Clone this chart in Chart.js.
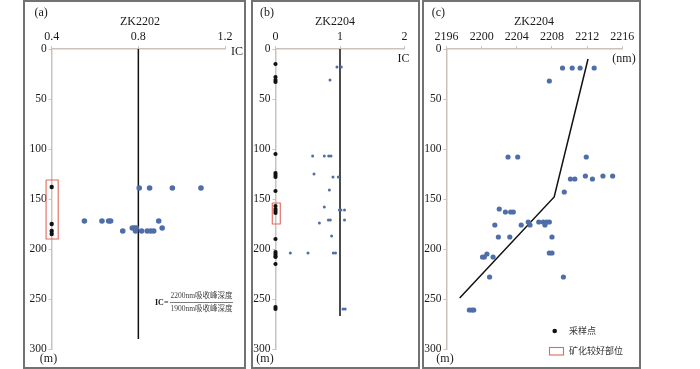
<!DOCTYPE html>
<html>
<head>
<meta charset="utf-8">
<script src="https://cdn.jsdelivr.net/npm/chart.js@4.4.1/dist/chart.umd.min.js"></script>
<style>
  html, body { margin:0; padding:0; background:#fff; }
  body { width:700px; height:369px; position:relative; overflow:hidden; }
  canvas { position:absolute; top:0; }
  .frame { position:absolute; top:0; height:369px; border:2px solid #727272; box-sizing:border-box; pointer-events:none; }
</style>
</head>
<body>
<canvas id="ca" style="left:25px;width:220px;height:367px" width="220" height="367"></canvas>
<canvas id="cb" style="left:253px;width:165px;height:367px" width="165" height="367"></canvas>
<canvas id="cc" style="left:424px;width:215px;height:367px" width="215" height="367"></canvas>
<div class="frame" style="left:23px;width:223px"></div>
<div class="frame" style="left:251px;width:169px"></div>
<div class="frame" style="left:422px;width:219px"></div>
<script>
// ---------------- data ----------------
// Panel (a) ZK2202 : IC vs depth (m)
const aSampleDepth = [138, 175, 182, 185];           // black sample points at IC axis origin
const aSampleIC    = [0.4, 0.4, 0.4, 0.4];
const aIC    = [0.804, 0.852, 0.957, 1.089, 0.551, 0.632, 0.663, 0.672, 0.894, 0.772, 0.781, 0.790, 0.910, 0.728, 0.787, 0.815, 0.841, 0.857, 0.871];
const aDepth = [139, 139, 139, 139, 172, 172, 172, 172, 172, 179, 179, 179, 179, 182, 182, 182, 182, 182, 182];
const aRefIC = [0.8, 0.8];
const aRefDepth = [0, 290];
const aZoneIC = [0.374, 0.430];
const aZoneDepth = [131, 190];
const aXTicks = [0.4, 0.8, 1.2];

// Panel (b) ZK2204 : IC vs depth (m)
const bSampleDepth = [15, 28, 31, 33, 105, 124, 126, 128, 142, 157, 160, 162, 164, 190, 203, 205, 207, 208, 215, 258, 260];
const bIC    = [0.953, 1.02, 0.845, 0.576, 0.757, 0.825, 0.86, 0.597, 0.891, 0.974, 0.835, 0.757, 0.99, 1.015, 1.07, 0.82, 0.85, 1.07, 0.68, 0.87, 0.23, 0.504, 0.896, 0.93, 1.047, 1.08];
const bDepth = [18, 18, 31, 107, 107, 107, 107, 125, 128, 128, 141, 158, 161, 161, 161, 171, 171, 171, 174, 187, 204, 204, 204, 204, 260, 260];
const bRefIC = [1, 1];
const bRefDepth = [0, 267];
const bZoneIC = [-0.05, 0.074];
const bZoneDepth = [154, 175];
const bXTicks = [0, 1, 2];

// Panel (c) ZK2204 : 2200nm absorption position vs depth (m)
const cNm    = [2209.2, 2210.3, 2211.2, 2212.8, 2207.7, 2203.0, 2204.1, 2211.9, 2211.8, 2213.8, 2214.9, 2210.1, 2210.6, 2212.6, 2209.4, 2202.0, 2202.7, 2203.3, 2203.6, 2205.3, 2206.5, 2207.0, 2207.4, 2207.7, 2201.5, 2204.5, 2205.5, 2207.2, 2201.9, 2203.2, 2208.0, 2207.7, 2208.0, 2200.6, 2200.1, 2200.3, 2201.3, 2200.9, 2209.3, 2198.6, 2198.9, 2199.1];
const cDepth = [19, 19, 19, 19, 32, 108, 108, 108, 127, 127, 127, 130, 130, 130, 143, 160, 163, 163, 163, 173, 173, 173, 173, 173, 176, 176, 176, 176, 188, 188, 188, 204, 204, 205, 208, 208, 208, 228, 228, 261, 261, 261];
const cTrendNm = [2212.1, 2208.25, 2197.5];
const cTrendDepth = [10, 148, 249];
const cXTicks = [2196, 2200, 2204, 2208, 2212, 2216];

const depthTicks = [0, 50, 100, 150, 200, 250, 300];

// ---------------- helpers ----------------
const SERIF = '"Liberation Serif","Times New Roman",serif';
const CJK = '"Liberation Serif","Noto Sans CJK SC",serif';
const AXIS = '#cac2bc';
const BLUE = '#4f6ea9';
const RED = '#e2685c';

function pts(xs, ys) { return xs.map((x, i) => ({x: x, y: ys[i]})); }
function box(xr, yr) {
  return [{x:xr[0],y:yr[0]},{x:xr[1],y:yr[0]},{x:xr[1],y:yr[1]},{x:xr[0],y:yr[1]},{x:xr[0],y:yr[0]}];
}

const annot = {
  id: 'annot',
  afterDraw(chart, args, opts) {
    const ctx = chart.ctx;
    (opts.items || []).forEach(it => {
      ctx.save();
      if (it.type === 'text') {
        ctx.font = it.font;
        ctx.fillStyle = it.color || '#1a1a1a';
        ctx.textAlign = it.align || 'left';
        ctx.textBaseline = 'middle';
        ctx.fillText(it.text, it.x, it.y);
      } else if (it.type === 'line') {
        ctx.strokeStyle = it.color || '#333';
        ctx.lineWidth = it.width || 1;
        ctx.beginPath(); ctx.moveTo(it.x1, it.y1); ctx.lineTo(it.x2, it.y2); ctx.stroke();
      } else if (it.type === 'dot') {
        ctx.fillStyle = it.color;
        ctx.beginPath(); ctx.arc(it.x, it.y, it.r, 0, Math.PI * 2); ctx.fill();
      } else if (it.type === 'rect') {
        ctx.strokeStyle = it.color; ctx.lineWidth = it.width || 1;
        ctx.strokeRect(it.x, it.y, it.w, it.h);
      }
      ctx.restore();
    });
  }
};

function makeChart(id, cfg) {
  return new Chart(document.getElementById(id), {
    type: 'scatter',
    data: { datasets: cfg.datasets },
    options: {
      responsive: false,
      animation: false,
      events: [],
      layout: { padding: { left: 0, right: cfg.padRight, top: 0, bottom: cfg.padBottom } },
      plugins: { legend: { display: false }, tooltip: { enabled: false }, annot: { items: cfg.items } },
      scales: {
        x: {
          type: 'linear', position: 'top', min: cfg.xMin, max: cfg.xMax,
          afterBuildTicks: s => { s.ticks = cfg.xTicks.map(v => ({value: v})); },
          ticks: { font: { family: SERIF, size: 12 }, color: '#1a1a1a', padding: 2, maxRotation: 0, autoSkip: false,
                   callback: cfg.xFmt },
          grid: { display: true, drawOnChartArea: false, drawTicks: true, tickLength: 3, color: AXIS },
          border: { display: true, color: AXIS, width: 1.5 },
          afterFit: s => { s.height = 49; }
        },
        y: {
          type: 'linear', position: 'left', reverse: true, min: 0, max: 300,
          afterBuildTicks: s => { s.ticks = depthTicks.map(v => ({value: v})); },
          ticks: { font: { family: SERIF, size: 11.5 }, color: '#1a1a1a', padding: 2, autoSkip: false },
          grid: { display: true, drawOnChartArea: false, drawTicks: true, tickLength: 3, color: AXIS },
          border: { display: true, color: AXIS, width: 1.5 },
          afterFit: s => { s.width = cfg.yWidth; }
        }
      }
    },
    plugins: [annot]
  });
}

const T12 = '12px ' + SERIF;

// ---------------- panel a ----------------
makeChart('ca', {
  xMin: 0.4, xMax: 1.2, xTicks: aXTicks, xFmt: v => Number(v).toFixed(1),
  yWidth: 26.7, padRight: 20, padBottom: 18,
  datasets: [
    { data: pts(aSampleIC, aSampleDepth), backgroundColor: '#111', borderWidth: 0, pointRadius: 2.2, clip: false },
    { data: pts(aIC, aDepth), backgroundColor: BLUE, borderWidth: 0, pointRadius: 2.8, clip: false },
    { data: pts(aRefIC, aRefDepth), showLine: true, borderColor: '#111', borderWidth: 1.5, pointRadius: 0, clip: false },
    { data: box(aZoneIC, aZoneDepth), showLine: true, borderColor: RED, borderWidth: 1.1, pointRadius: 0, clip: false, tension: 0 }
  ],
  items: [
    { type: 'text', text: '(a)', x: 9.5, y: 13, font: T12 },
    { type: 'text', text: 'ZK2202', x: 115, y: 22, font: T12, align: 'center' },
    { type: 'text', text: 'IC', x: 206, y: 52, font: T12 },
    { type: 'text', text: '(m)', x: 23.5, y: 359, font: T12, align: 'center' },
    { type: 'text', text: 'IC=', x: 130, y: 302.5, font: 'bold 8px ' + SERIF },
    { type: 'text', text: '2200nm吸收峰深度', x: 176.5, y: 296, font: '7.5px ' + CJK, align: 'center', color: '#444' },
    { type: 'line', x1: 145, y1: 302.5, x2: 208, y2: 302.5, width: 0.7, color: '#444' },
    { type: 'text', text: '1900nm吸收峰深度', x: 176.5, y: 309, font: '7.5px ' + CJK, align: 'center', color: '#444' }
  ]
});

// ---------------- panel b ----------------
makeChart('cb', {
  xMin: 0, xMax: 2, xTicks: bXTicks, xFmt: v => String(v),
  yWidth: 22.5, padRight: 13.5, padBottom: 18,
  datasets: [
    { data: pts(bSampleDepth.map(() => 0), bSampleDepth), backgroundColor: '#111', borderWidth: 0, pointRadius: 2.1, clip: false },
    { data: pts(bIC, bDepth), backgroundColor: BLUE, borderWidth: 0, pointRadius: 1.5, clip: false },
    { data: pts(bRefIC, bRefDepth), showLine: true, borderColor: '#111', borderWidth: 1.5, pointRadius: 0, clip: false },
    { data: box(bZoneIC, bZoneDepth), showLine: true, borderColor: RED, borderWidth: 1.1, pointRadius: 0, clip: false, tension: 0 }
  ],
  items: [
    { type: 'text', text: '(b)', x: 7, y: 13, font: T12 },
    { type: 'text', text: 'ZK2204', x: 82, y: 22, font: T12, align: 'center' },
    { type: 'text', text: 'IC', x: 150.5, y: 59, font: T12, align: 'center' },
    { type: 'text', text: '(m)', x: 12, y: 359, font: T12, align: 'center' }
  ]
});

// ---------------- panel c ----------------
makeChart('cc', {
  xMin: 2196, xMax: 2216, xTicks: cXTicks, xFmt: v => String(v),
  yWidth: 22.5, padRight: 16.7, padBottom: 18,
  datasets: [
    { data: pts(cNm, cDepth), backgroundColor: BLUE, borderWidth: 0, pointRadius: 2.6, clip: false },
    { data: pts(cTrendNm, cTrendDepth), showLine: true, borderColor: '#111', borderWidth: 1.5, pointRadius: 0, clip: false, tension: 0 }
  ],
  items: [
    { type: 'text', text: '(c)', x: 7.7, y: 13, font: T12 },
    { type: 'text', text: 'ZK2204', x: 110, y: 22, font: T12, align: 'center' },
    { type: 'text', text: '(nm)', x: 200, y: 59, font: T12, align: 'center' },
    { type: 'text', text: '(m)', x: 21, y: 359, font: T12, align: 'center' },
    { type: 'dot', x: 130.7, y: 331, r: 2.3, color: '#111' },
    { type: 'text', text: '采样点', x: 145, y: 331, font: '9px "Noto Sans CJK SC"', color: '#333' },
    { type: 'rect', x: 125.5, y: 347.5, w: 14, h: 7.5, color: RED, width: 1.1 },
    { type: 'text', text: '矿化较好部位', x: 145, y: 351, font: '9px "Noto Sans CJK SC"', color: '#333' }
  ]
});
</script>
</body>
</html>
